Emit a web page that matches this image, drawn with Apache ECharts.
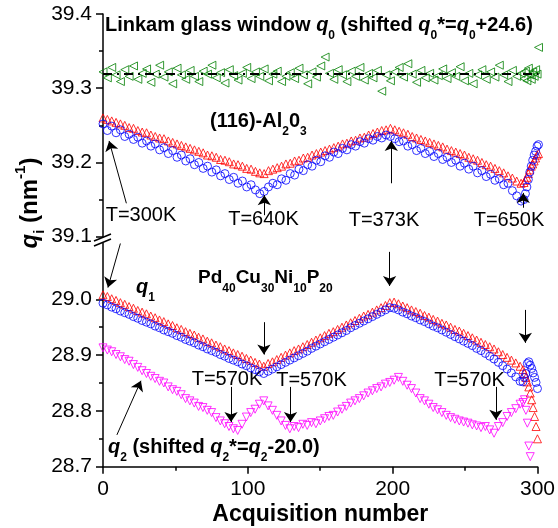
<!DOCTYPE html>
<html><head><meta charset="utf-8">
<script src="https://cdn.jsdelivr.net/npm/echarts@6/dist/echarts.min.js"></script>
<style>html,body{margin:0;padding:0;background:#fff}#c{width:558px;height:528px}</style>
</head><body><div id="c"></div>
<script>
// ---------- data ----------
const acq = [0,3,6,9,12,15,18,21,24,27,30,33,36,39,42,45,48,51,54,57,60,63,66,69,72,75,78,81,84,87,90,93,96,99,102,105,108,111,
114,117,120,123,126,129,132,135,138,141,144,147,150,153,156,159,162,165,168,171,174,177,180,183,186,189,192,195,198,
201,204,207,210,213,216,219,222,225,228,231,234,237,240,243,246,249,252,255,258,261,264,267,270,273,276,279,282,285,288,
290,291,292,293,294,295,296,297,298,299,300];

// Linkam glass window q0 (shifted)
const q0Glass = [39.322,39.314,39.328,39.318,39.309,39.325,39.316,39.330,39.312,39.320,39.326,39.308,39.319,39.331,39.315,39.322,39.306,39.327,39.318,39.312,39.324,39.316,39.309,39.323,39.319,39.331,39.314,39.321,39.307,39.325,39.317,39.311,39.320,39.328,39.313,39.322,39.316,39.326,
39.310,39.319,39.323,39.309,39.316,39.321,39.313,39.327,39.318,39.306,39.322,39.315,39.330,39.342,39.320,39.312,39.325,39.318,39.309,39.323,39.316,39.328,39.311,39.320,39.314,39.324,39.296,39.318,39.310,
39.322,39.328,39.315,39.333,39.319,39.308,39.324,39.314,39.320,39.311,39.317,39.326,39.313,39.321,39.316,39.329,39.310,39.320,39.306,39.318,39.325,39.312,39.322,39.315,39.331,39.318,39.309,39.324,39.316,39.320,
39.313,39.323,39.310,39.327,39.318,39.312,39.322,39.316,39.325,39.319,39.355];
const q0Mean = 39.321;

// (116)-Al2O3 : q1 (red triangles) and second curve (blue circles)
const alRed = [39.260,39.258,39.256,39.254,39.252,39.250,39.247,39.246,39.243,39.241,39.240,39.237,39.235,39.233,39.232,39.229,39.227,39.225,39.223,39.221,39.219,39.217,39.215,39.213,39.210,39.209,39.207,39.204,39.203,39.201,39.198,39.197,39.195,39.192,39.191,39.188,39.186,39.185,
39.189,39.191,39.193,39.195,39.198,39.199,39.202,39.203,39.206,39.207,39.210,39.212,39.214,39.216,39.218,39.220,39.222,39.225,39.226,39.229,39.230,39.233,39.234,39.237,39.239,39.241,39.243,39.244,39.246,
39.244,39.242,39.240,39.238,39.235,39.233,39.231,39.229,39.227,39.225,39.223,39.221,39.218,39.216,39.214,39.212,39.210,39.207,39.205,39.203,39.200,39.197,39.195,39.192,39.189,39.186,39.182,39.179,39.175,39.172,
39.173,39.176,39.180,39.185,39.190,39.195,39.198,39.202,39.206,39.210,39.212];
const alBlue = [39.252,39.243,39.249,39.240,39.244,39.235,39.238,39.231,39.234,39.226,39.229,39.222,39.225,39.217,39.220,39.212,39.216,39.207,39.210,39.202,39.205,39.197,39.200,39.192,39.195,39.187,39.190,39.182,39.185,39.177,39.180,39.172,39.175,39.167,39.170,39.163,39.158,39.161,
39.167,39.172,39.170,39.178,39.176,39.185,39.183,39.191,39.189,39.197,39.195,39.203,39.201,39.209,39.207,39.214,39.212,39.219,39.217,39.224,39.222,39.228,39.226,39.232,39.230,39.235,39.233,39.237,39.235,
39.232,39.228,39.229,39.222,39.224,39.216,39.219,39.212,39.215,39.208,39.212,39.204,39.207,39.200,39.203,39.195,39.199,39.191,39.195,39.186,39.189,39.181,39.184,39.176,39.178,39.170,39.172,39.162,39.155,39.148,
39.150,39.158,39.167,39.177,39.187,39.195,39.203,39.210,39.215,39.222,39.224];

// Pd40Cu30Ni10P20 : q1 (red triangles, blue circles) and q2 shifted (magenta)
const pdRed = [29.008,29.005,29.001,28.998,28.994,28.991,28.987,28.984,28.980,28.977,28.974,28.970,28.967,28.963,28.960,28.956,28.953,28.949,28.946,28.942,28.939,28.936,28.932,28.929,28.925,28.922,28.918,28.915,28.911,28.908,28.904,28.901,28.898,28.894,28.891,28.887,28.884,28.880,
28.885,28.888,28.892,28.896,28.900,28.904,28.908,28.911,28.915,28.919,28.923,28.927,28.931,28.935,28.939,28.942,28.946,28.950,28.954,28.958,28.962,28.966,28.970,28.973,28.977,28.981,28.985,28.989,28.994,
28.995,28.992,28.988,28.985,28.981,28.978,28.975,28.971,28.968,28.964,28.961,28.957,28.954,28.950,28.946,28.943,28.939,28.935,28.931,28.927,28.923,28.919,28.915,28.911,28.906,28.901,28.896,28.891,28.886,28.880,
28.874,28.867,28.860,28.852,28.843,28.832,28.820,28.806,28.790,28.772,28.750];
const pdBlue = [28.993,28.990,28.986,28.983,28.979,28.976,28.973,28.969,28.966,28.962,28.959,28.956,28.952,28.949,28.945,28.942,28.939,28.935,28.932,28.928,28.925,28.922,28.918,28.915,28.911,28.908,28.905,28.901,28.898,28.894,28.891,28.888,28.884,28.881,28.877,28.874,28.870,28.867,
28.871,28.875,28.879,28.883,28.887,28.891,28.895,28.899,28.903,28.907,28.912,28.916,28.920,28.924,28.928,28.932,28.936,28.940,28.944,28.949,28.953,28.957,28.961,28.965,28.969,28.973,28.977,28.981,28.985,
28.984,28.981,28.977,28.974,28.970,28.967,28.963,28.960,28.956,28.952,28.949,28.945,28.941,28.937,28.933,28.929,28.925,28.921,28.917,28.912,28.908,28.903,28.898,28.893,28.887,28.881,28.875,28.868,28.861,28.853,
28.852,28.860,28.867,28.885,28.888,28.882,28.876,28.868,28.860,28.851,28.840];
const pdQ2 = [28.913,28.909,28.906,28.901,28.897,28.892,28.889,28.883,28.878,28.872,28.867,28.862,28.858,28.853,28.850,28.843,28.838,28.835,28.829,28.822,28.818,28.814,28.808,28.806,28.801,28.797,28.788,28.782,28.777,28.772,28.768,28.765,28.776,28.789,28.797,28.803,28.812,28.818,
28.809,28.801,28.792,28.782,28.774,28.768,28.772,28.770,28.776,28.774,28.779,28.777,28.782,28.786,28.790,28.792,28.798,28.803,28.808,28.814,28.818,28.822,28.827,28.832,28.836,28.840,28.843,28.848,28.851,
28.855,28.860,28.853,28.846,28.840,28.832,28.822,28.818,28.812,28.806,28.802,28.797,28.792,28.788,28.785,28.782,28.780,28.778,28.775,28.773,28.770,28.772,28.766,28.760,28.772,28.779,28.790,28.797,28.804,28.812,
28.815,28.820,28.801,28.778,28.737,28.718,null,null,null,null,null];

// axis ticks
const xTicks = [0, 100, 200, 300];
const yUpperTicks = [39.1, 39.2, 39.3, 39.4];
const yLowerTicks = [28.7, 28.8, 28.9, 29.0];
const yLowerMinor = [28.75, 28.85, 28.95];

// annotation arrows [from, tip] in data units (acquisition, q)
const arrowsUpper = [
  [[16.1, 39.145], [4.2, 39.229]],   // T=300K
  [[111.1, 39.129], [111.1, 39.156]], // T=640K
  [[198.6, 39.172], [198.6, 39.229]], // T=373K
  [[289.5, 39.139], [289.5, 39.159]]  // T=650K
];
const arrowsLower = [
  [[12.0, 29.1], [3.4, 29.021]],
  [[111.1, 28.959], [111.1, 28.901]],
  [[197.9, 29.085], [197.9, 29.024]],
  [[291.6, 28.981], [291.6, 28.922]],
  [[88.4, 28.843], [88.4, 28.780]],
  [[129.5, 28.843], [129.5, 28.780]],
  [[271.3, 28.843], [271.3, 28.784]],
  [[9.6, 28.757], [26.2, 28.854]]
];

// ---------- chart ----------
const F = "'Liberation Sans', Arial, Helvetica, sans-serif";
const pairs = v => acq.map((a, i) => [a, v[i]]).filter(p => p[1] != null);

function sc(xi, yi, vals, symbol, rot, color, extra) {
  return Object.assign({
    type: 'scatter', xAxisIndex: xi, yAxisIndex: yi, data: pairs(vals),
    symbol: symbol, symbolRotate: rot, symbolSize: 8,
    itemStyle: {color: 'rgba(255,255,255,0)', borderColor: color, borderWidth: 1},
    silent: true, emphasis: {disabled: true}, animation: false
  }, extra || {});
}
function arrowSeries(xi, yi, list) {
  return {
    type: 'line', xAxisIndex: xi, yAxisIndex: yi, data: [], color: '#000',
    itemStyle: {color: '#000'}, lineStyle: {color: '#000'}, silent: true, animation: false,
    markLine: {
      silent: true, animation: false,
      symbol: ['none', 'arrow'], symbolSize: 10,
      lineStyle: {color: '#000', width: 1, type: 'solid'},
      itemStyle: {color: '#000'},
      label: {show: false}, emphasis: {disabled: true},
      data: list.map(a => [{coord: a[0]}, {coord: a[1]}])
    }
  };
}

function R(sz) {
  const s = Math.round(sz * 0.62);
  return {
    b: {fontFamily: F, fontSize: sz, fontWeight: 'bold', fill: '#000', lineHeight: 34},
    i: {fontFamily: F, fontSize: sz, fontWeight: 'bold', fontStyle: 'italic', fill: '#000', lineHeight: 34},
    s: {fontFamily: F, fontSize: s, fontWeight: 'bold', fill: '#000', lineHeight: s + 2, verticalAlign: 'bottom'},
    p: {fontFamily: F, fontSize: s, fontWeight: 'bold', fill: '#000', lineHeight: s + 2, verticalAlign: 'top'}
  };
}
function rt(x, y, text, sz, align, rot) {
  return {type: 'text', x: x, y: y, rotation: rot || 0, silent: true,
    style: {text: text, rich: R(sz), align: align || 'left', verticalAlign: 'middle',
      textAlign: align || 'left', textVerticalAlign: 'middle', fill: '#000'}};
}
function pt(x, y, text) {
  return {type: 'text', x: x, y: y, silent: true,
    style: {text: text, fontFamily: F, fontSize: 20, fill: '#000', align: 'center', verticalAlign: 'middle',
      textAlign: 'center', textVerticalAlign: 'middle'}};
}

const axLine = {show: true, onZero: false, lineStyle: {color: '#000', width: 1.5}};
const lbl = {fontSize: 21, color: '#000', fontFamily: F};

const chart = echarts.init(document.getElementById('c'));
chart.setOption({
  animation: false,
  backgroundColor: '#fff',
  grid: [
    {left: 103, right: 19.5, top: 14, height: 222.7},
    {left: 103, right: 19.5, top: 243.5, height: 223.2}
  ],
  xAxis: [
    {gridIndex: 0, type: 'value', min: 0, max: 300, interval: 100, show: false},
    {gridIndex: 1, type: 'value', min: 0, max: 300, interval: 100,
      axisLine: axLine,
      axisTick: {show: true, length: 7, lineStyle: {color: '#000', width: 1.5}},
      minorTick: {show: true, splitNumber: 2, length: 4, lineStyle: {color: '#000', width: 1.5}},
      splitLine: {show: false},
      axisLabel: Object.assign({margin: 12, customValues: xTicks, formatter: v => String(Math.round(v))}, lbl),
      name: 'Acquisition number', nameLocation: 'middle', nameGap: 36,
      nameTextStyle: {fontSize: 23, fontWeight: 'bold', color: '#000', fontFamily: F}}
  ],
  yAxis: [
    {gridIndex: 0, type: 'value', position: 'left', min: 39.1, max: 39.4, interval: 0.1,
      axisLine: axLine,
      axisTick: {show: true, length: 7, lineStyle: {color: '#000', width: 1.5}},
      minorTick: {show: true, splitNumber: 2, length: 4, lineStyle: {color: '#000', width: 1.5}},
      splitLine: {show: false},
      axisLabel: Object.assign({margin: 11, customValues: yUpperTicks, formatter: v => v.toFixed(1)}, lbl)},
    {gridIndex: 1, type: 'value', position: 'left', min: 28.7, max: 29.1, interval: 0.1,
      axisLine: axLine,
      axisTick: {show: true, length: 7, customValues: yLowerTicks, lineStyle: {color: '#000', width: 1.5}},
      minorTick: {show: false},
      splitLine: {show: false},
      axisLabel: Object.assign({margin: 11, customValues: yLowerTicks,
        formatter: v => (v > 29.05 ? '' : v.toFixed(1))}, lbl)},
    {gridIndex: 1, type: 'value', position: 'left', min: 28.7, max: 29.1, interval: 0.1,
      axisLine: {show: false},
      axisTick: {show: true, length: 4, customValues: yLowerMinor, lineStyle: {color: '#000', width: 1.5}},
      axisLabel: {show: false}, splitLine: {show: false}}
  ],
  series: [
    sc(0, 0, q0Glass, 'triangle', 90, '#008000', {
      markLine: {silent: true, animation: false, symbol: 'none', label: {show: false},
        lineStyle: {color: '#000', width: 2, type: [9, 5, 2, 5]}, emphasis: {disabled: true},
        data: [{yAxis: q0Mean}]}}),
    sc(0, 0, alRed, 'triangle', 0, '#FF0000'),
    sc(0, 0, alBlue, 'circle', 0, '#0000FF'),
    sc(1, 1, pdRed, 'triangle', 0, '#FF0000'),
    sc(1, 1, pdBlue, 'circle', 0, '#0000FF'),
    sc(1, 1, pdQ2, 'triangle', 180, '#FF00FF'),
    arrowSeries(0, 0, arrowsUpper),
    arrowSeries(1, 1, arrowsLower)
  ],
  graphic: [
    rt(105, 25, '{b|Linkam glass window }{i|q}{s|0}{b| (shifted }{i|q}{s|0}{b|*=}{i|q}{s|0}{b|+24.6)}', 20),
    rt(210, 121, '{b|(116)-Al}{s|2}{b|0}{s|3}', 20),
    rt(136, 287, '{i|q}{s|1}', 20),
    rt(198, 278, '{b|Pd}{s|40}{b|Cu}{s|30}{b|Ni}{s|10}{b|P}{s|20}', 19),
    rt(108, 447, '{i|q}{s|2}{b| (shifted }{i|q}{s|2}{b|*=}{i|q}{s|2}{b|-20.0)}', 20),
    rt(30, 203, '{i|q}{s|i}{b| (nm}{p|-1}{b|)}', 24, 'center', Math.PI / 2),
    pt(141, 215, 'T=300K'),
    pt(263.5, 219, 'T=640K'),
    pt(384, 220, 'T=373K'),
    pt(509, 220, 'T=650K'),
    pt(227, 379, 'T=570K'),
    pt(311.5, 380, 'T=570K'),
    pt(469.5, 380, 'T=570K'),
    {type: 'line', silent: true, shape: {x1: 94, y1: 241, x2: 111, y2: 234}, style: {stroke: '#000', lineWidth: 1.5}},
    {type: 'line', silent: true, shape: {x1: 94, y1: 246, x2: 111, y2: 239}, style: {stroke: '#000', lineWidth: 1.5}}
  ]
});
</script>
</body></html>
